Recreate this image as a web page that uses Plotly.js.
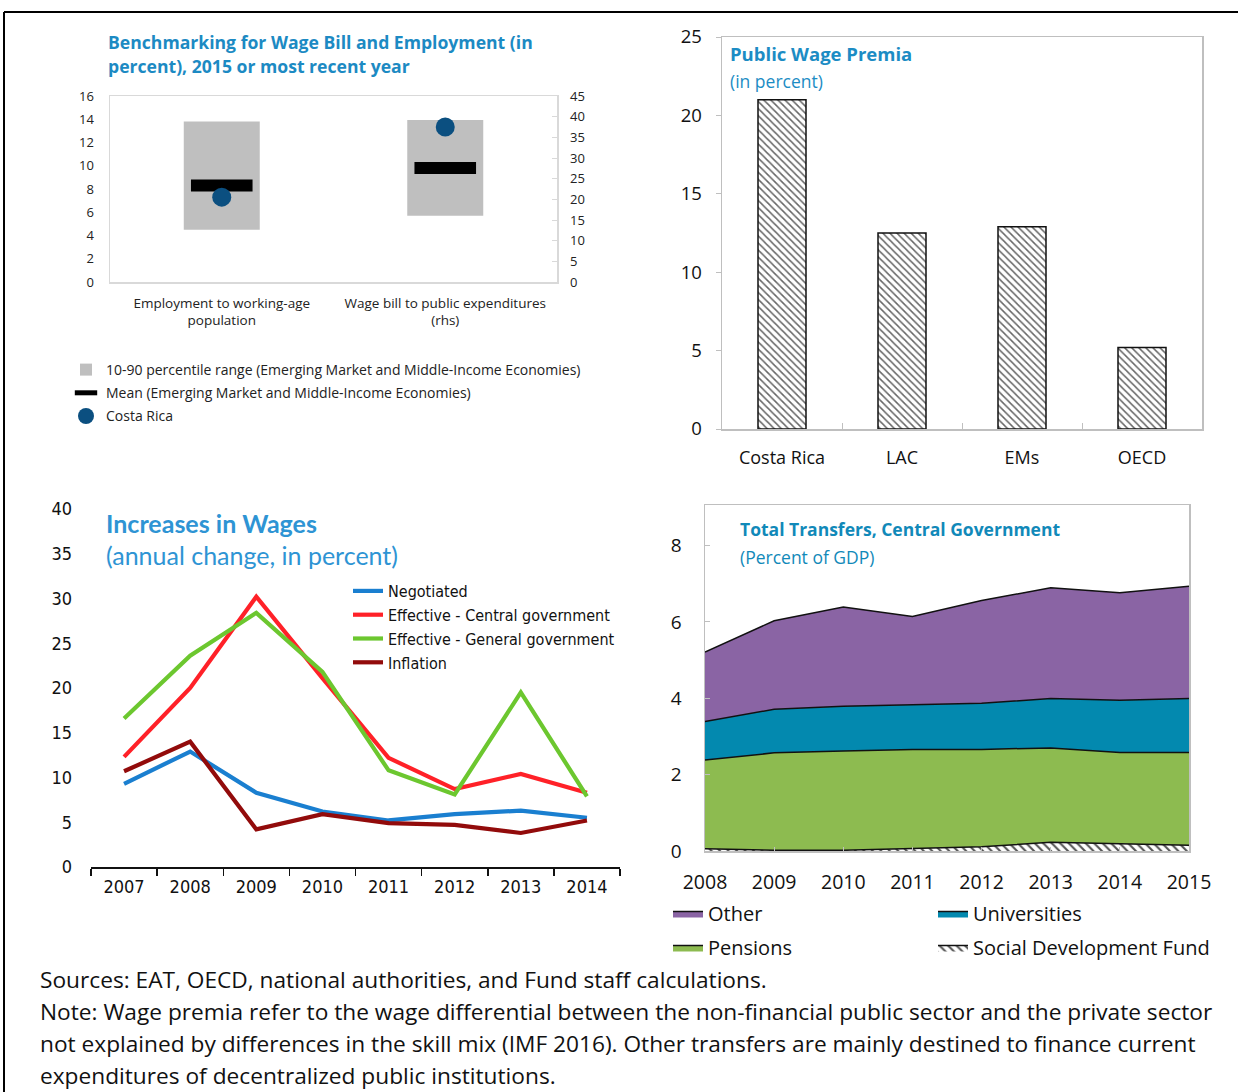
<!DOCTYPE html>
<html><head><meta charset="utf-8">
<script src="https://cdn.plot.ly/plotly-3.0.1.min.js"></script>
<style>html,body{margin:0;padding:0;background:#fff}#chart{width:1238px;height:1092px}</style>
</head><body><div id="chart"></div>
<script>
// ---------- Panel 1: Benchmarking ----------
const benchCategories = ['Employment to working-age<br>population', 'Wage bill to public expenditures<br>(rhs)'];
const benchP10 = [4.5, 16.0];
const benchP90 = [13.8, 39.2];
const benchMean = [8.3, 27.6];
const benchCostaRica = [7.3, 37.5];
const benchLegend = ['10-90 percentile range (Emerging Market and Middle-Income Economies)',
                     'Mean (Emerging Market and Middle-Income Economies)', 'Costa Rica'];

// ---------- Panel 2: Public wage premia ----------
const premiaCategories = ['Costa Rica', 'LAC', 'EMs', 'OECD'];
const premiaValues = [21.0, 12.5, 12.9, 5.2];

// ---------- Panel 3: Increases in wages ----------
const wageYears = ['2007', '2008', '2009', '2010', '2011', '2012', '2013', '2014'];
const negotiated = [9.3, 12.9, 8.3, 6.2, 5.2, 5.9, 6.3, 5.5];
const effectiveCentral = [12.3, 20.0, 30.2, 21.1, 12.2, 8.7, 10.4, 8.3];
const effectiveGeneral = [16.6, 23.6, 28.4, 21.8, 10.8, 8.1, 19.5, 7.9];
const inflation = [10.7, 14.0, 4.2, 5.9, 4.9, 4.7, 3.8, 5.2];

// ---------- Panel 4: Total transfers ----------
const transferYears = [2008, 2009, 2010, 2011, 2012, 2013, 2014, 2015];
const socialDevFund = [0.06, 0.02, 0.02, 0.06, 0.11, 0.23, 0.19, 0.15];
const pensions = [2.32, 2.55, 2.60, 2.60, 2.55, 2.47, 2.39, 2.43];
const universities = [1.01, 1.14, 1.17, 1.17, 1.21, 1.29, 1.37, 1.41];
const otherTransfers = [1.82, 2.32, 2.60, 2.31, 2.69, 2.90, 2.81, 2.94];

// ---------- helpers ----------
const W = 1238, H = 1092;
const px = v => v / W;
const py = v => 1 - v / H;
const OS = 'Open Sans, Noto Sans, sans-serif';
const NARROW = 'DejaVu Sans Condensed, Liberation Sans, sans-serif';
const LATO = 'Lato, Open Sans, sans-serif';

const traces = [];
// Panel 1
traces.push({type: 'bar', x: [benchCategories[0]], y: [benchP90[0] - benchP10[0]], base: [benchP10[0]],
  xaxis: 'x', yaxis: 'y', width: 0.34, marker: {color: '#BFBFBF'}, name: benchLegend[0], legend: 'legend', legendgroup: 'a'});
traces.push({type: 'bar', x: [benchCategories[1]], y: [benchP90[1] - benchP10[1]], base: [benchP10[1]],
  xaxis: 'x', yaxis: 'y2', width: 0.34, marker: {color: '#BFBFBF'}, name: benchLegend[0], showlegend: false, legend: 'legend', legendgroup: 'a'});
traces.push({type: 'scatter', mode: 'markers', x: [benchCategories[0]], y: [benchMean[0]], xaxis: 'x', yaxis: 'y',
  marker: {symbol: 'line-ew', size: 44, line: {width: 12, color: '#000'}}, name: benchLegend[1], legend: 'legend', legendgroup: 'b'});
traces.push({type: 'scatter', mode: 'markers', x: [benchCategories[1]], y: [benchMean[1]], xaxis: 'x', yaxis: 'y2',
  marker: {symbol: 'line-ew', size: 44, line: {width: 12, color: '#000'}}, name: benchLegend[1], showlegend: false, legend: 'legend', legendgroup: 'b'});
traces.push({type: 'scatter', mode: 'markers', x: [benchCategories[0]], y: [benchCostaRica[0]], xaxis: 'x', yaxis: 'y',
  marker: {symbol: 'circle', size: 19, color: '#0B4F80'}, name: benchLegend[2], legend: 'legend', legendgroup: 'c'});
traces.push({type: 'scatter', mode: 'markers', x: [benchCategories[1]], y: [benchCostaRica[1]], xaxis: 'x', yaxis: 'y2',
  marker: {symbol: 'circle', size: 19, color: '#0B4F80'}, name: benchLegend[2], showlegend: false, legend: 'legend', legendgroup: 'c'});

// Panel 2
traces.push({type: 'bar', x: premiaCategories, y: premiaValues, xaxis: 'x2', yaxis: 'y3', width: 0.4, showlegend: false,
  marker: {color: '#fff', line: {color: '#111', width: 1.5},
    pattern: {shape: '\\', fgcolor: '#666', bgcolor: '#fff', size: 5, solidity: 0.3}}});

// Panel 3
const wageSeries = [
  ['Negotiated', negotiated, '#1A7FD0'],
  ['Effective - Central government', effectiveCentral, '#FF2128'],
  ['Effective - General government', effectiveGeneral, '#6CC72F'],
  ['Inflation', inflation, '#920B0B']
];
wageSeries.forEach(s => traces.push({type: 'scatter', mode: 'lines', x: wageYears, y: s[1], name: s[0],
  xaxis: 'x3', yaxis: 'y4', line: {color: s[2], width: 4.2}, legend: 'legend2'}));

// Panel 4 (stacked areas)
traces.push({type: 'scatter', mode: 'lines', x: transferYears, y: socialDevFund, name: 'Social Development Fund',
  stackgroup: 'tr', xaxis: 'x4', yaxis: 'y5', line: {color: '#111', width: 1.5}, fillcolor: '#fff',
  fillpattern: {shape: '\\', fgcolor: '#555', bgcolor: '#fff', size: 6, solidity: 0.35},
  legend: 'legend4', legendgroup: 'sdf', legendrank: 2});
traces.push({type: 'scatter', mode: 'lines', x: transferYears, y: pensions, name: 'Pensions',
  stackgroup: 'tr', xaxis: 'x4', yaxis: 'y5', line: {color: '#111', width: 1.5}, fillcolor: '#8DBB50',
  legend: 'legend3', legendgroup: 'pen', legendrank: 2});
traces.push({type: 'scatter', mode: 'lines', x: transferYears, y: universities, name: 'Universities',
  stackgroup: 'tr', xaxis: 'x4', yaxis: 'y5', line: {color: '#111', width: 1.5}, fillcolor: '#0389AF',
  legend: 'legend4', legendgroup: 'uni', legendrank: 1});
traces.push({type: 'scatter', mode: 'lines', x: transferYears, y: otherTransfers, name: 'Other',
  stackgroup: 'tr', xaxis: 'x4', yaxis: 'y5', line: {color: '#111', width: 1.5}, fillcolor: '#8A64A4',
  legend: 'legend3', legendgroup: 'oth', legendrank: 1});

function ann(text, x, y, size, color, opts) {
  return Object.assign({text: text, x: px(x), y: py(y), xref: 'paper', yref: 'paper', xanchor: 'left', yanchor: 'middle',
    showarrow: false, align: 'left', font: {family: OS, size: size, color: color}}, opts || {});
}
function legendAt(x, y, font, extra) {
  return Object.assign({x: px(x), y: py(y), xref: 'paper', yref: 'paper', xanchor: 'left', yanchor: 'top',
    orientation: 'v', bgcolor: 'rgba(0,0,0,0)', borderwidth: 0, font: font, itemclick: false}, extra || {});
}

const layout = {
  width: W, height: H, margin: {l: 0, r: 0, t: 0, b: 0, autoexpand: false},
  paper_bgcolor: '#fff', plot_bgcolor: 'rgba(0,0,0,0)', barmode: 'overlay', hovermode: false,
  font: {family: OS, color: '#222'},
  // panel 1
  xaxis: {domain: [px(110), px(557)], anchor: 'y', type: 'category', categoryarray: benchCategories, categoryorder: 'array',
    showline: true, mirror: true, linecolor: '#D9D9D9', linewidth: 1.5, ticks: '', showgrid: false, zeroline: false,
    tickfont: {family: OS, size: 13.5, color: '#222'}, ticklabelstandoff: 8},
  yaxis: {domain: [py(282), py(96)], anchor: 'x', range: [0, 16], dtick: 2, showgrid: false, zeroline: false,
    showline: true, mirror: true, linecolor: '#D9D9D9', linewidth: 1.5, ticks: '', ticklabelstandoff: 12,
    tickfont: {family: OS, size: 13, color: '#222'}},
  yaxis2: {overlaying: 'y', side: 'right', anchor: 'x', range: [0, 45], dtick: 5, showgrid: false, zeroline: false,
    showline: false, ticks: 'inside', ticklen: 5, tickcolor: '#D9D9D9', ticklabelstandoff: 12,
    tickfont: {family: OS, size: 13, color: '#222'}},
  // panel 2
  xaxis2: {domain: [px(722), px(1202)], anchor: 'y3', type: 'category', showline: true, mirror: true, linecolor: '#BFBFBF',
    linewidth: 1.5, ticks: 'inside', tickson: 'boundaries', ticklen: 6, tickcolor: '#BFBFBF', showgrid: false,
    tickfont: {family: OS, size: 18, color: '#111'}, ticklabelstandoff: 12},
  yaxis3: {domain: [py(429), py(37)], anchor: 'x2', range: [0, 25], dtick: 5, showgrid: false, zeroline: false,
    showline: true, mirror: true, linecolor: '#BFBFBF', linewidth: 1.5, ticks: 'outside', ticklen: 5, tickcolor: '#BFBFBF',
    tickfont: {family: OS, size: 18.5, color: '#111'}, ticklabelstandoff: 10},
  // panel 3
  xaxis3: {domain: [px(91), px(620)], anchor: 'y4', type: 'category', range: [-0.5, 7.5], showline: true, linecolor: '#111', linewidth: 1.5,
    ticks: 'outside', tickson: 'boundaries', ticklen: 7, tickcolor: '#111', tickwidth: 1.5, showgrid: false,
    tickfont: {family: NARROW, size: 18, color: '#111'}, ticklabelstandoff: 3},
  yaxis4: {domain: [py(867), py(509)], anchor: 'x3', range: [0, 40], dtick: 5, showgrid: false, zeroline: false,
    showline: false, ticks: '', tickfont: {family: NARROW, size: 18, color: '#111'}, ticklabelstandoff: 18},
  // panel 4
  xaxis4: {domain: [px(705), px(1189)], anchor: 'y5', range: [2008, 2015], dtick: 1, showline: true, mirror: true,
    linecolor: '#BFBFBF', linewidth: 1.5, ticks: 'inside', ticklen: 4, tickcolor: '#BFBFBF', showgrid: false, zeroline: false,
    tickfont: {family: OS, size: 19.5, color: '#111'}, ticklabelstandoff: 13},
  yaxis5: {domain: [py(851), py(505)], anchor: 'x4', range: [0, 9.06], dtick: 2, showline: true, mirror: true,
    linecolor: '#BFBFBF', linewidth: 1.5, ticks: 'inside', ticklen: 5, tickcolor: '#BFBFBF', showgrid: false, zeroline: false,
    tickfont: {family: OS, size: 19, color: '#111'}, ticklabelstandoff: 18},
  legend: legendAt(66, 354, {family: OS, size: 14, color: '#222'}, {traceorder: 'grouped', tracegroupgap: 2}),
  legend2: legendAt(348, 574, {family: NARROW, size: 16, color: '#111'}, {traceorder: 'normal'}),
  legend3: legendAt(668, 894, {family: OS, size: 20, color: '#111'}, {traceorder: 'grouped', tracegroupgap: 5}),
  legend4: legendAt(933, 894, {family: OS, size: 20, color: '#111'}, {traceorder: 'grouped', tracegroupgap: 5}),
  shapes: [
    {type: 'line', xref: 'paper', yref: 'paper', x0: px(4), x1: 1, y0: py(12), y1: py(12), line: {color: '#000', width: 2}},
    {type: 'line', xref: 'paper', yref: 'paper', x0: px(4), x1: px(4), y0: py(12), y1: 0, line: {color: '#000', width: 2}}
  ],
  annotations: [
    ann('<b>Benchmarking for Wage Bill and Employment (in</b>', 106, 42, 17.6, '#1C8AC3'),
    ann('<b>percent), 2015 or most recent year</b>', 106, 66, 17.6, '#1C8AC3'),
    ann('<b>Public Wage Premia</b>', 728, 53, 18.5, '#1C8CC4'),
    ann('(in percent)', 728, 81, 17.5, '#1C8CC4'),
    ann('<b>Increases in Wages</b>', 104, 523, 25, '#2E94D4', {font: {family: LATO, size: 25, color: '#2E94D4'}}),
    ann('(annual change, in percent)', 104, 555, 25, '#2E94D4', {font: {family: LATO, size: 25, color: '#2E94D4'}}),
    ann('<b>Total Transfers, Central Government</b>', 738, 529, 17.5, '#1189B9'),
    ann('(Percent of GDP)', 738, 557, 17.5, '#1189B9'),
    ann('Sources: EAT, OECD, national authorities, and Fund staff calculations.', 38, 979, 22.7, '#111'),
    ann('Note: Wage premia refer to the wage differential between the non-financial public sector and the private sector', 38, 1011, 22.7, '#111'),
    ann('not explained by differences in the skill mix (IMF 2016). Other transfers are mainly destined to finance current', 38, 1043, 22.7, '#111'),
    ann('expenditures of decentralized public institutions.', 38, 1075, 22.7, '#111')
  ]
};

Plotly.newPlot('chart', traces, layout, {staticPlot: true, displayModeBar: false});
</script>
</body></html>
